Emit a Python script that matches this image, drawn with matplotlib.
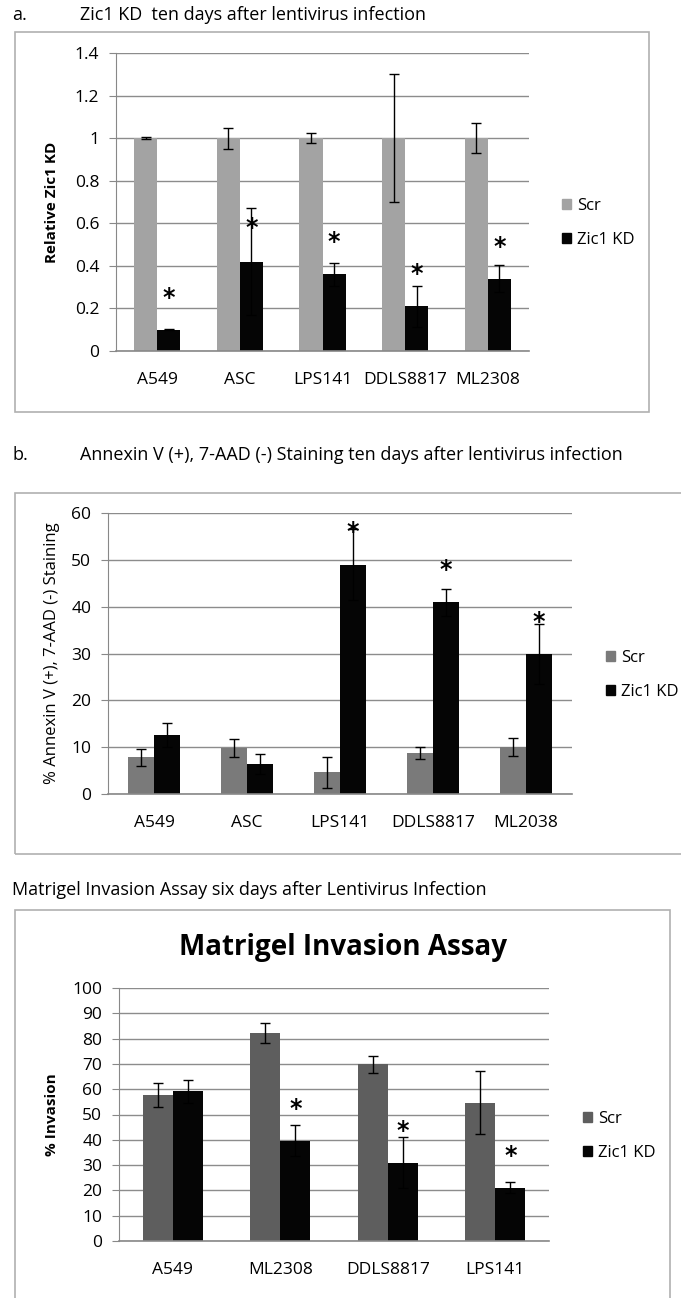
import numpy as np
import matplotlib
matplotlib.use("Agg")
import matplotlib.pyplot as plt
from matplotlib.patches import Rectangle, Patch
from matplotlib.ticker import FuncFormatter

plt.rcParams["font.family"] = ["Open Sans", "DejaVu Sans"]

W, H = 681, 1298

# ---------------- data ----------------
# panel a: relative Zic1 KD
a_cats = ["A549", "ASC", "LPS141", "DDLS8817", "ML2308"]
a_scr = [1.0, 1.0, 1.0, 1.0, 1.0]
a_scr_err = [0.005, 0.05, 0.025, 0.30, 0.07]
a_kd = [0.10, 0.42, 0.36, 0.21, 0.34]
a_kd_err = [0.003, 0.25, 0.055, 0.095, 0.065]
a_star = [0.25, 0.58, 0.51, 0.36, 0.49]

# panel b: annexin V staining
b_cats = ["A549", "ASC", "LPS141", "DDLS8817", "ML2038"]
b_scr = [7.8, 9.8, 4.6, 8.7, 10.0]
b_scr_err = [1.75, 2.0, 3.4, 1.3, 1.9]
b_kd = [12.6, 6.4, 49.0, 40.9, 29.9]
b_kd_err = [2.5, 2.1, 7.6, 2.9, 6.5]
b_star = [None, None, 56.0, 47.9, 36.7]

# panel c: matrigel invasion
c_cats = ["A549", "ML2308", "DDLS8817", "LPS141"]
c_scr = [57.7, 82.2, 69.9, 54.7]
c_scr_err = [4.7, 3.9, 3.3, 12.3]
c_kd = [59.1, 39.7, 31.0, 21.1]
c_kd_err = [4.6, 6.2, 10.0, 2.1]
c_star = [None, 52.1, 43.3, 33.6]


def rect(x0, y0, x1, y1):
    # pixel box (top-left origin) -> figure fraction rect
    return [x0 / W, 1 - y1 / H, (x1 - x0) / W, (y1 - y0) / H]


def frame(fig, x0, y0, x1, y1):
    fig.add_artist(Rectangle((x0 / W, 1 - y1 / H), (x1 - x0) / W, (y1 - y0) / H,
                             transform=fig.transFigure, fill=False,
                             edgecolor="#b0b0b0", linewidth=1.2))


def bar_panel(fig, box, cats, scr, scr_err, kd, kd_err, stars, ymax, step,
              scr_color, ylabel, ylabel_bold, ylabel_size, legend_xy):
    ax = fig.add_axes(rect(*box))
    x = np.arange(len(cats))
    w = 0.28
    ekw = dict(ecolor="black", elinewidth=1, capsize=3.5, capthick=1)
    ax.bar(x - w / 2, scr, w, color=scr_color, yerr=scr_err, error_kw=ekw, zorder=2)
    ax.bar(x + w / 2, kd, w, color="#050505", yerr=kd_err, error_kw=ekw, zorder=2)
    for i, s in enumerate(stars):
        if s is not None:
            ax.text(x[i] + w / 2, s, "*", ha="center", va="center",
                    fontsize=17, fontweight="bold", fontfamily="DejaVu Sans",
                    zorder=3)
    ax.set_xlim(-0.5, len(cats) - 0.5)
    ax.set_ylim(0, ymax)
    ax.set_yticks(np.arange(0, ymax + step / 2, step))
    ax.yaxis.set_major_formatter(FuncFormatter(lambda v, p: f"{round(v, 2):g}"))
    ax.set_xticks(x)
    ax.set_xticklabels(cats)
    ax.tick_params(axis="x", length=0, pad=15, labelsize=12.5)
    ax.tick_params(axis="y", length=5, pad=7, color="#888888", labelsize=12.5)
    ax.grid(axis="y", color="#8c8c8c", linewidth=1, zorder=0)
    ax.set_axisbelow(True)
    for s in ["top", "right"]:
        ax.spines[s].set_visible(False)
    ax.spines["left"].set_color("#888888")
    ax.spines["bottom"].set_color("#888888")
    ax.spines["bottom"].set_linewidth(1.2)
    fig.text(52 / W, 1 - (box[1] + box[3]) / 2 / H, ylabel, rotation=90,
             ha="center", va="center", fontsize=ylabel_size,
             fontweight="bold" if ylabel_bold else "normal")
    handles = [Patch(color=scr_color, label="Scr"), Patch(color="#050505", label="Zic1 KD")]
    ax.legend(handles=handles, loc="center left",
              bbox_to_anchor=(legend_xy[0] / W, 1 - legend_xy[1] / H),
              bbox_transform=fig.transFigure, frameon=False, fontsize=12,
              handlelength=0.55, handleheight=0.55, handletextpad=0.35,
              labelspacing=1.1)
    return ax


fig = plt.figure(figsize=(W / 100, H / 100), dpi=100)

# ---- panel a ----
fig.text(12 / W, 1 - 15 / H, "a.", fontsize=13, va="center")
fig.text(80 / W, 1 - 15 / H, "Zic1 KD  ten days after lentivirus infection",
         fontsize=13, va="center")
frame(fig, 15, 32, 649, 412)
bar_panel(fig, (116, 53, 529, 351), a_cats, a_scr, a_scr_err, a_kd, a_kd_err,
          a_star, 1.4, 0.2, "#a3a3a3", "Relative Zic1 KD", True, 11, (547, 223))

# ---- panel b ----
fig.text(12 / W, 1 - 455 / H, "b.", fontsize=13, va="center")
fig.text(80 / W, 1 - 455 / H,
         "Annexin V (+), 7-AAD (-) Staining ten days after lentivirus infection",
         fontsize=13, va="center")
frame(fig, 15, 493, 690, 854)
bar_panel(fig, (108, 513, 572, 794), b_cats, b_scr, b_scr_err, b_kd, b_kd_err,
          b_star, 60, 10, "#7a7a7a", "% Annexin V (+), 7-AAD (-) Staining", False,
          12, (591, 675))

# ---- panel c ----
fig.text(12 / W, 1 - 890 / H,
         "Matrigel Invasion Assay six days after Lentivirus Infection",
         fontsize=13, va="center")
frame(fig, 15, 910, 670, 1310)
fig.text(343 / W, 1 - 948 / H, "Matrigel Invasion Assay", fontsize=20,
         fontweight="bold", ha="center", va="center")
bar_panel(fig, (119, 988, 549, 1241), c_cats, c_scr, c_scr_err, c_kd, c_kd_err,
          c_star, 100, 10, "#5e5e5e", "% Invasion", True, 11, (568, 1136))

fig.savefig("out.png", dpi=100)
